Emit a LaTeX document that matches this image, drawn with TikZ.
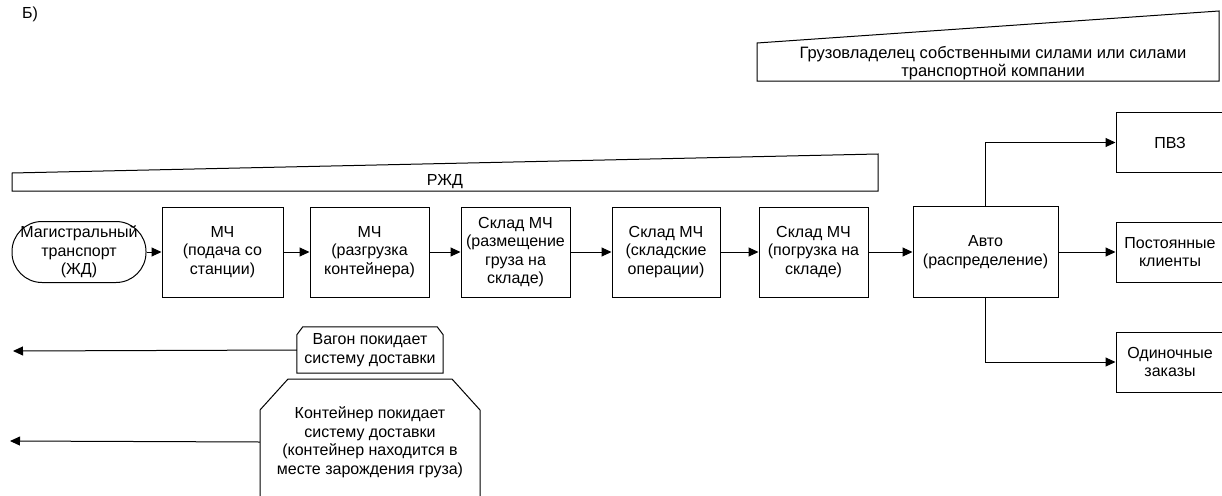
\documentclass[tikz,border=0pt]{standalone}
\usepackage{fontspec}
\setmainfont{Liberation Sans}
\usetikzlibrary{arrows.meta,calc}
\begin{document}
\begin{tikzpicture}[x=1pt,y=-1pt,
  font=\fontsize{16}{18.5}\selectfont,
  box/.style={draw, line width=1pt, align=center, inner sep=2pt},
  txt/.style={align=center, inner sep=0pt},
  shp/.style={draw, line width=1pt},
  arr/.style={-{Triangle[length=10pt,width=9pt]}, line width=1pt}]
\useasboundingbox (0,0) rectangle (1222,495);
\clip (0,0) rectangle (1222,495);

% label
\node[anchor=west, inner sep=0pt] (lbl) at (22,14) {Б)};

% top owner bar
\draw[shp] (757,43) -- (1219,11) -- (1219,81) -- (757,81) -- cycle;
\node[txt, font=\fontsize{16.5}{17.5}\selectfont] (owner) at (993,63) {Грузовладелец собственными силами или силами\\транспортной компании};

% RZD bar
\draw[shp] (12,173) -- (878,154) -- (878,191) -- (12,191) -- cycle;
\node[txt] (rzd) at (445,182) {РЖД};

% main row
\node[box, rounded corners=30pt, minimum width=134pt, minimum height=61pt, inner sep=0pt] (term) at (79,252) {Магистральный\\транспорт\\(ЖД)};
\node[box, minimum width=121pt, minimum height=90pt] (b1) at (222.5,252) {МЧ\\(подача со\\станции)};
\node[box, minimum width=119pt, minimum height=90pt] (b2) at (369.5,252) {МЧ\\(разгрузка\\контейнера)};
\node[box, minimum width=109pt, minimum height=90pt] (b3) at (515.5,252) {Склад МЧ\\(размещение\\груза на\\складе)};
\node[box, minimum width=108pt, minimum height=90pt] (b4) at (666,252) {Склад МЧ\\(складские\\операции)};
\node[box, minimum width=109pt, minimum height=90pt] (b5) at (813.5,252) {Склад МЧ\\(погрузка на\\складе)};
\node[box, minimum width=145pt, minimum height=91pt] (auto) at (985.5,252) {Авто\\(распределение)};

\node[box, minimum width=108pt, minimum height=60pt] (pvz) at (1170,142.5) {ПВЗ};
\node[box, minimum width=108pt, minimum height=60pt] (post) at (1170,252) {Постоянные\\клиенты};
\node[box, minimum width=108pt, minimum height=60pt] (odin) at (1170,362) {Одиночные\\заказы};

\draw[arr] (term) -- (b1);
\draw[arr] (b1) -- (b2);
\draw[arr] (b2) -- (b3);
\draw[arr] (b3) -- (b4);
\draw[arr] (b4) -- (b5);
\draw[arr] (b5) -- (auto);
\draw[arr] (auto.north) |- (pvz.west);
\draw[arr] (auto.east) -- (post.west);
\draw[arr] (auto.south) |- (odin.west);

% bottom: wagon
\node[txt, minimum width=146pt, minimum height=46pt] (vagon) at (370,350) {Вагон покидает\\систему доставки};
\draw[shp] (vagon.south west) -- ([yshift=-8pt]vagon.north west) -- ([xshift=6pt]vagon.north west)
  -- ([xshift=-6pt]vagon.north east) -- ([yshift=-8pt]vagon.north east) -- (vagon.south east) -- cycle;
\coordinate (vend) at (13,351);
\draw[arr] (vagon.west) -- (vend);

% bottom: container
\node[txt, minimum width=220pt, minimum height=62pt] (kont) at (370,442) {Контейнер покидает\\систему доставки\\(контейнер находится в\\месте зарождения груза)};
\draw[shp] (260,520) -- (260,410) -- (288,379) -- (452,379) -- (480,410) -- (480,520);
\coordinate (kend) at (10,441);
\draw[arr] (kont.west) -- (kend);
\end{tikzpicture}
\end{document}
